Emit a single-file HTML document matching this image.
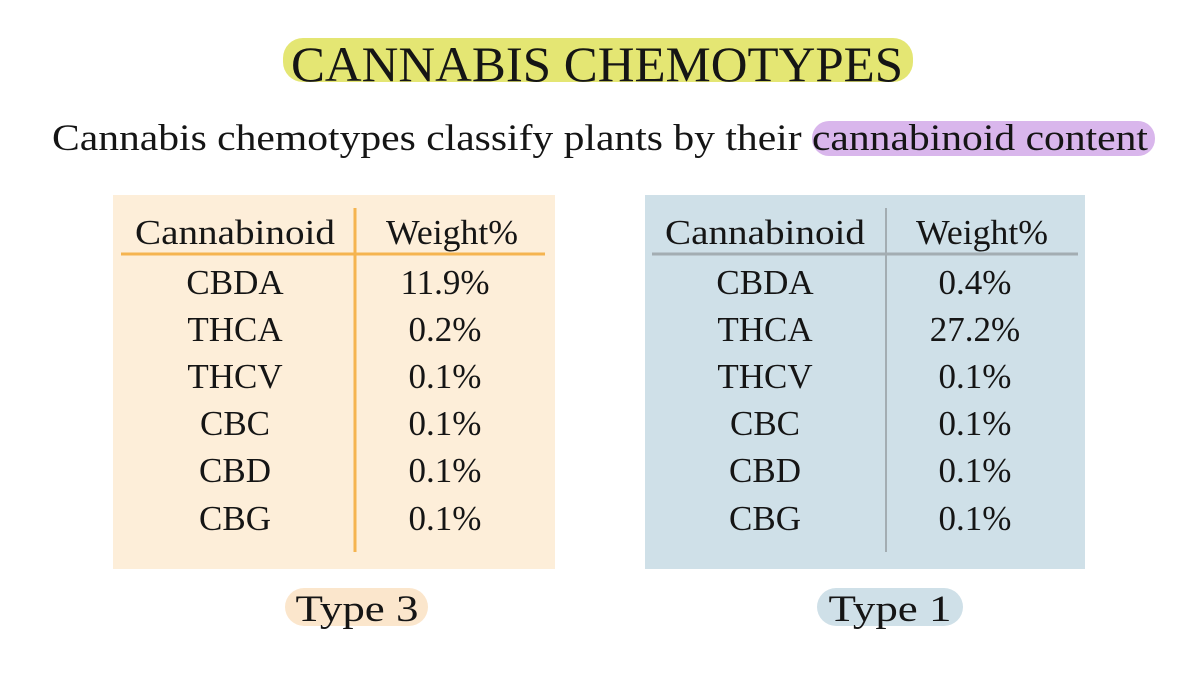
<!DOCTYPE html>
<html><head><meta charset="utf-8"><style>
html,body{margin:0;padding:0;background:#fff;width:1200px;height:679px;overflow:hidden}
svg{display:block}
text{font-family:"Liberation Serif",serif;fill:#151515}
</style></head><body>
<svg width="1200" height="679" viewBox="0 0 1200 679">
<rect x="283" y="38" width="630" height="44" rx="20" fill="#e4e673"/>
<text x="597" y="81" font-size="50" text-anchor="middle" textLength="612" lengthAdjust="spacingAndGlyphs">CANNABIS CHEMOTYPES</text>
<rect x="812" y="121" width="343" height="35" rx="17" fill="#d9b6ec"/>
<text x="52" y="150" font-size="37" textLength="1096" lengthAdjust="spacingAndGlyphs">Cannabis chemotypes classify plants by their cannabinoid content</text>

<rect x="113" y="195" width="442" height="374" fill="#fdeed9"/>
<line x1="121" y1="254" x2="545" y2="254" stroke="#f5b450" stroke-width="3"/>
<line x1="355" y1="208" x2="355" y2="552" stroke="#f5b450" stroke-width="3"/>
<rect x="645" y="195" width="440" height="374" fill="#cfe0e8"/>
<line x1="652" y1="254" x2="1078" y2="254" stroke="#a3adb2" stroke-width="3"/>
<line x1="886" y1="208" x2="886" y2="552" stroke="#a3adb2" stroke-width="2"/>

<g font-size="35" text-anchor="middle">
<text x="235" y="244" textLength="200" lengthAdjust="spacingAndGlyphs">Cannabinoid</text>
<text x="452" y="244" textLength="132" lengthAdjust="spacingAndGlyphs">Weight%</text>
<text x="235" y="294">CBDA</text><text x="445" y="294">11.9%</text>
<text x="235" y="341">THCA</text><text x="445" y="341">0.2%</text>
<text x="235" y="388">THCV</text><text x="445" y="388">0.1%</text>
<text x="235" y="435">CBC</text><text x="445" y="435">0.1%</text>
<text x="235" y="482">CBD</text><text x="445" y="482">0.1%</text>
<text x="235" y="530">CBG</text><text x="445" y="530">0.1%</text>

<text x="765" y="244" textLength="200" lengthAdjust="spacingAndGlyphs">Cannabinoid</text>
<text x="982" y="244" textLength="132" lengthAdjust="spacingAndGlyphs">Weight%</text>
<text x="765" y="294">CBDA</text><text x="975" y="294">0.4%</text>
<text x="765" y="341">THCA</text><text x="975" y="341">27.2%</text>
<text x="765" y="388">THCV</text><text x="975" y="388">0.1%</text>
<text x="765" y="435">CBC</text><text x="975" y="435">0.1%</text>
<text x="765" y="482">CBD</text><text x="975" y="482">0.1%</text>
<text x="765" y="530">CBG</text><text x="975" y="530">0.1%</text>
</g>

<rect x="285" y="588" width="143" height="38" rx="19" fill="#fbe6cc"/>
<text x="357" y="621" font-size="37" text-anchor="middle" textLength="123" lengthAdjust="spacingAndGlyphs">Type 3</text>
<rect x="817" y="588" width="146" height="38" rx="19" fill="#cfe0e8"/>
<text x="890" y="621" font-size="37" text-anchor="middle" textLength="123" lengthAdjust="spacingAndGlyphs">Type 1</text>
</svg>
</body></html>
